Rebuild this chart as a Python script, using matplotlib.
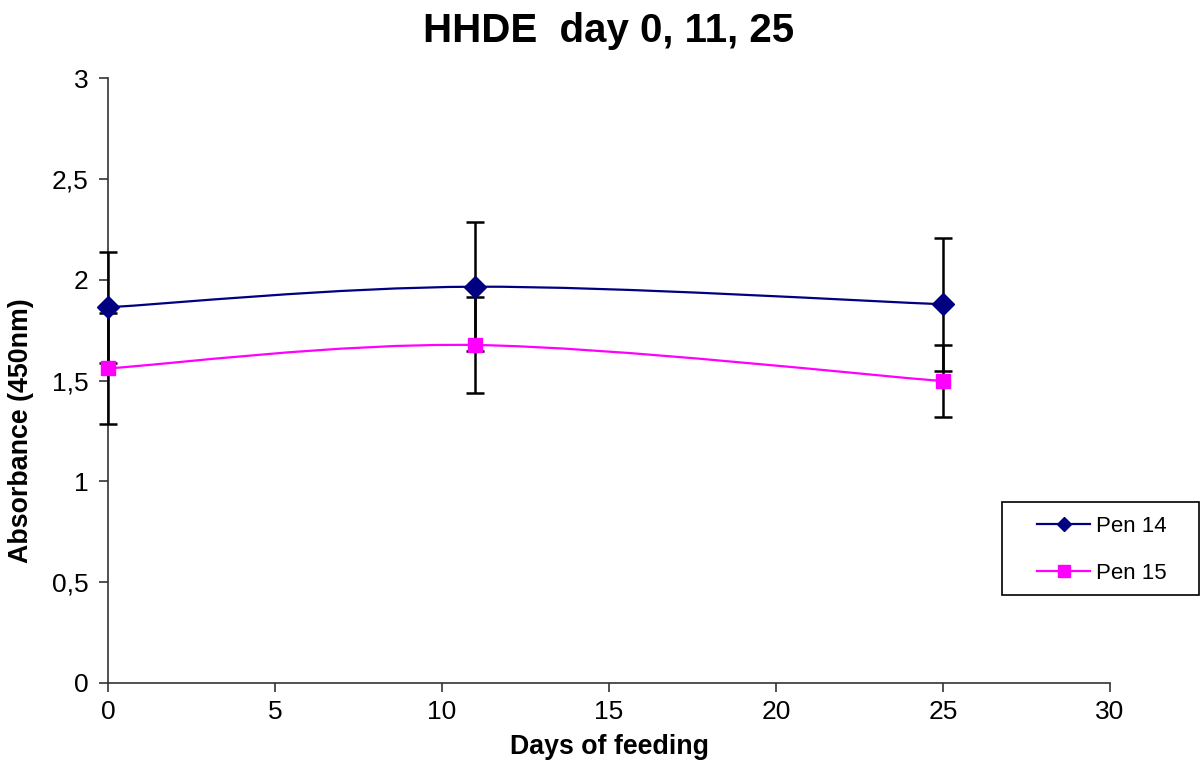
import matplotlib
matplotlib.use("Agg")
import matplotlib.pyplot as plt
import numpy as np
from matplotlib.path import Path
from matplotlib.patches import PathPatch, Rectangle
from matplotlib.ticker import FuncFormatter

plt.rcParams['font.family'] = ['Liberation Sans', 'DejaVu Sans']

days = [0, 11, 25]
pen14 = [1.863, 1.965, 1.878]
pen14_err = [0.276, 0.319, 0.330]
pen15 = [1.560, 1.676, 1.497]
pen15_err = [0.276, 0.236, 0.178]
series_names = ["Pen 14", "Pen 15"]
title = "HHDE  day 0, 11, 25"
xlabel = "Days of feeding"
ylabel = "Absorbance (450nm)"

c14 = "#000080"
c15 = "#FF00FF"

fig = plt.figure(figsize=(12, 7.65), dpi=100)
ax = fig.add_axes([108/1200, 1-683/765, (1110-108)/1200, (683-78)/765])


def smooth_path(xs, ys):
    pts = np.column_stack([xs, ys]).astype(float)
    n = len(pts)
    verts = [pts[0]]
    codes = [Path.MOVETO]
    for i in range(n - 1):
        p_prev = pts[i - 1] if i > 0 else pts[i]
        p0 = pts[i]
        p1 = pts[i + 1]
        p_next = pts[i + 2] if i + 2 < n else pts[i + 1]
        c1 = p0 + (p1 - p_prev) / 6.0
        c2 = p1 - (p_next - p0) / 6.0
        verts += [c1, c2, p1]
        codes += [Path.CURVE4] * 3
    return Path(verts, codes)


for ys, errs, col, mk, ms in [
    (pen14, pen14_err, c14, 'D', 11),
    (pen15, pen15_err, c15, 's', 10),
]:
    ax.add_patch(PathPatch(smooth_path(days, ys), facecolor='none',
                           edgecolor=col, lw=1.6, zorder=2, clip_on=False))
    eb = ax.errorbar(days, ys, yerr=errs, fmt='none', ecolor='black',
                     elinewidth=1.8, capsize=6.5, capthick=1.8, zorder=3)
    for art in eb.lines[1]:
        art.set_clip_on(False)
    for art in eb.lines[2]:
        art.set_clip_on(False)
    ax.plot(days, ys, linestyle='none', marker=mk, markersize=ms,
            color=col, markeredgecolor=col, zorder=4, clip_on=False)

# legend handles
h14, = ax.plot([], [], color=c14, lw=1.6, marker='D', markersize=7)
h15, = ax.plot([], [], color=c15, lw=1.6, marker='s', markersize=8)

ax.set_xlim(0, 30)
ax.set_ylim(0, 3)
ax.set_xticks(np.arange(0, 31, 5))
ax.set_yticks(np.arange(0, 3.01, 0.5))
fmt = FuncFormatter(lambda v, p: ('%g' % v).replace('.', ','))
ax.yaxis.set_major_formatter(fmt)

for s in ['top', 'right']:
    ax.spines[s].set_visible(False)
for s in ['left', 'bottom']:
    ax.spines[s].set_color('#333333')
    ax.spines[s].set_linewidth(1.2)
ax.tick_params(axis='both', direction='out', length=6.3, width=1.2,
               color='#333333', labelsize=19)
ax.tick_params(axis='y', pad=8)
ax.tick_params(axis='x', pad=6)

ax.set_title(title, fontsize=29, fontweight='bold', pad=26)
ax.set_xlabel(xlabel, fontsize=19.3, fontweight='bold', labelpad=7)
ax.set_ylabel(ylabel, fontsize=19.3, fontweight='bold')
ax.yaxis.set_label_coords(-(108-34)/1002, (683-431)/605)

# legend box
fig.patches.append(Rectangle((1002/1200, (765-595)/765), 197/1200, 93/765,
                             transform=fig.transFigure, facecolor='white',
                             edgecolor='black', lw=1.2, zorder=1))
leg = fig.legend([h14, h15], series_names, loc='center left',
                 bbox_to_anchor=(1037/1200, (765-550)/765),
                 fontsize=16, frameon=False, handlelength=2.4,
                 labelspacing=1.15, borderpad=0, handletextpad=0.25,
                 borderaxespad=0)
leg.set_zorder(2)

fig.savefig("out.png", dpi=100)
